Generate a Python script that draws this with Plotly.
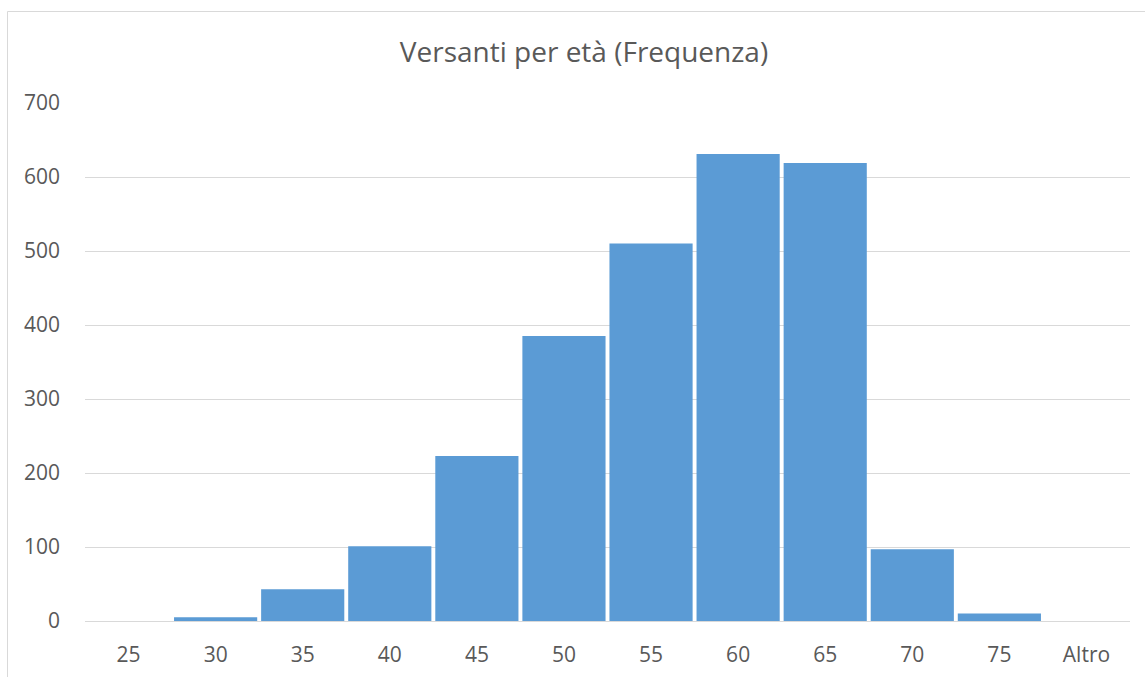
import plotly.graph_objects as go

categories = ["25", "30", "35", "40", "45", "50", "55", "60", "65", "70", "75", "Altro"]
frequenza = [0, 5, 43, 101, 223, 385, 510, 631, 619, 97, 10, 0]
y_ticks = [0, 100, 200, 300, 400, 500, 600, 700]

W, H = 1145, 677
ml, mr, mt, mb = 85, 15, 103, 56
pw, ph = W - ml - mr, H - mt - mb

fig = go.Figure(go.Bar(x=categories, y=frequenza, marker=dict(color="#5B9BD5", line=dict(width=0)),
                       hoverinfo="skip"))

fig.update_layout(
    width=W, height=H,
    margin=dict(l=ml, r=mr, t=mt, b=mb, autoexpand=False),
    paper_bgcolor="white", plot_bgcolor="white",
    bargap=0.045,
    title=dict(text="Versanti per età (Frequenza)", x=584 / W, xanchor="center",
               y=1 - 52 / H, yanchor="middle",
               font=dict(family="Open Sans", size=28, color="#595959")),
    font=dict(family="Open Sans", size=21, color="#595959"),
    xaxis=dict(type="category", showgrid=False, showline=True, linecolor="#D9D9D9", linewidth=1,
               ticks="", tickfont=dict(size=21, color="#595959"), ticklabelstandoff=15,
               automargin=False, fixedrange=True),
    yaxis=dict(range=[0, 700], tickvals=y_ticks, showgrid=True, gridcolor="#D9D9D9", gridwidth=1,
               zeroline=False, showline=False, ticks="",
               tickfont=dict(size=21, color="#595959"), ticklabelstandoff=24,
               automargin=False, fixedrange=True),
    showlegend=False,
    shapes=[dict(type="rect", xref="paper", yref="paper",
                 x0=(7.5 - ml) / pw, x1=(W + 20 - ml) / pw,
                 y0=-(mb + 20) / ph,
                 y1=(H - 11.5 - mb) / ph,
                 line=dict(color="#D9D9D9", width=1), layer="below")],
)

fig.write_html(
    "out.html",
    config={"displayModeBar": False},
    post_script="document.body.style.margin='0';document.body.style.overflow='hidden';",
)
